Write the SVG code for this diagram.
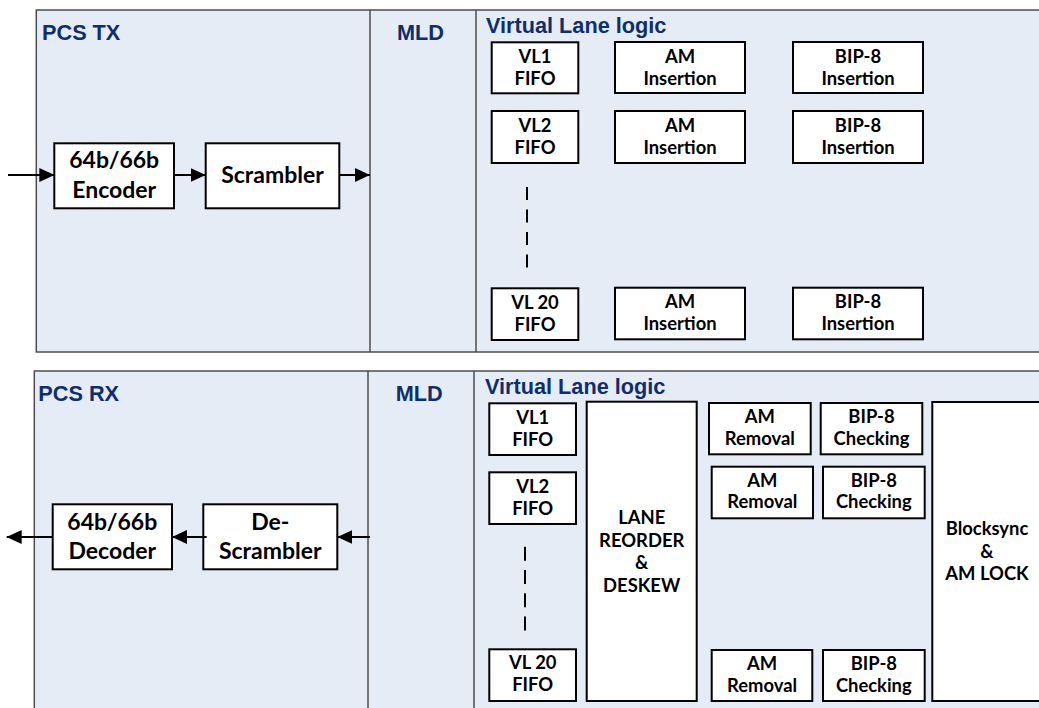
<svg xmlns="http://www.w3.org/2000/svg" width="1039" height="708" viewBox="0 0 1039 708">
<defs>
<style>
.panel{fill:#E6ECF6;stroke:#4D4D4D;stroke-width:1.5}
.div{stroke:#4D4D4D;stroke-width:1.5;fill:none}
.hdr{font-family:"Liberation Sans",Arial,sans-serif;font-weight:bold;font-size:21.7px;fill:#0F2E6C}
.box{fill:#FFFFFF;stroke:#000000;stroke-width:2}
.t{font-family:Lato,"Open Sans",sans-serif;font-weight:bold;font-size:18.4px;fill:#000000;text-anchor:middle}
.tb{font-family:Lato,"Open Sans",sans-serif;font-weight:bold;font-size:23px;fill:#000000;text-anchor:middle}
.conn{stroke:#000000;stroke-width:2;fill:none}
.dash{stroke:#000000;stroke-width:2;fill:none}
</style>
<marker id="ah" markerWidth="15" markerHeight="14" refX="15" refY="7" orient="auto" markerUnits="userSpaceOnUse">
<polygon points="0,0 15,7 0,14" fill="#000000"/>
</marker>
</defs>

<g id="panel-tx">
<rect class="panel" x="36.3" y="10" width="1010" height="342"/>
<line class="div" x1="370" y1="10" x2="370" y2="352"/>
<line class="div" x1="476" y1="10" x2="476" y2="352"/>
<text class="hdr" x="42" y="40">PCS TX</text>
<text class="hdr" x="397" y="40">MLD</text>
<text class="hdr" x="486" y="32.5">Virtual Lane logic</text>
</g>

<g id="panel-rx">
<rect class="panel" x="34.3" y="371" width="1012" height="345"/>
<line class="div" x1="368" y1="371" x2="368" y2="716"/>
<line class="div" x1="474" y1="371" x2="474" y2="716"/>
<text class="hdr" x="38.3" y="400.7">PCS RX</text>
<text class="hdr" x="395.7" y="400.7">MLD</text>
<text class="hdr" x="485" y="394">Virtual Lane logic</text>
</g>

<g id="encoder">
<rect class="box" x="54.3" y="143.3" width="119.7" height="65"/>
<text class="tb" x="114.2" y="168.3">64b/66b</text>
<text class="tb" x="114.2" y="197.7">Encoder</text>
</g>
<g id="scrambler">
<rect class="box" x="205.7" y="143.3" width="133.6" height="65"/>
<text class="tb" x="272.5" y="182.7">Scrambler</text>
</g>

<g id="tx-vl1-fifo"><rect class="box" x="491.7" y="42.3" width="86.6" height="51"/><text class="t" x="535" y="63.3">VL1</text><text class="t" x="535" y="85">FIFO</text></g>
<g id="tx-am1"><rect class="box" x="615" y="42" width="130" height="51"/><text class="t" x="680" y="62.5">AM</text><text class="t" x="680" y="84.5">Insertion</text></g>
<g id="tx-bip1"><rect class="box" x="793" y="42" width="130" height="51"/><text class="t" x="858" y="62.5">BIP-8</text><text class="t" x="858" y="84.5">Insertion</text></g>

<g id="tx-vl2-fifo"><rect class="box" x="491.7" y="111" width="86.6" height="52"/><text class="t" x="535" y="132">VL2</text><text class="t" x="535" y="154">FIFO</text></g>
<g id="tx-am2"><rect class="box" x="615" y="111" width="130" height="52"/><text class="t" x="680" y="131.5">AM</text><text class="t" x="680" y="153.5">Insertion</text></g>
<g id="tx-bip2"><rect class="box" x="793" y="111" width="130" height="52"/><text class="t" x="858" y="131.5">BIP-8</text><text class="t" x="858" y="153.5">Insertion</text></g>

<g id="tx-vl20-fifo"><rect class="box" x="491.7" y="288.3" width="86.6" height="51.7"/><text class="t" x="535" y="308.5">VL 20</text><text class="t" x="535" y="330.5">FIFO</text></g>
<g id="tx-am20"><rect class="box" x="615" y="287.7" width="130" height="51.6"/><text class="t" x="680" y="308">AM</text><text class="t" x="680" y="330">Insertion</text></g>
<g id="tx-bip20"><rect class="box" x="793" y="287.7" width="130" height="51.6"/><text class="t" x="858" y="308">BIP-8</text><text class="t" x="858" y="330">Insertion</text></g>

<g id="decoder">
<rect class="box" x="52.7" y="504.3" width="119.3" height="65"/>
<text class="tb" x="112.3" y="530">64b/66b</text>
<text class="tb" x="112.3" y="559">Decoder</text>
</g>
<g id="descrambler">
<rect class="box" x="203.3" y="504.3" width="134" height="65"/>
<text class="tb" x="270.3" y="530">De-</text>
<text class="tb" x="270.3" y="559">Scrambler</text>
</g>

<g id="rx-vl1-fifo"><rect class="box" x="489.3" y="403.3" width="86.7" height="51.7"/><text class="t" x="532.7" y="424.3">VL1</text><text class="t" x="532.7" y="446.3">FIFO</text></g>
<g id="rx-vl2-fifo"><rect class="box" x="489.3" y="472.3" width="86.7" height="51.7"/><text class="t" x="532.7" y="493">VL2</text><text class="t" x="532.7" y="515">FIFO</text></g>
<g id="rx-vl20-fifo"><rect class="box" x="489.3" y="649.3" width="86.7" height="51.7"/><text class="t" x="532.7" y="669">VL 20</text><text class="t" x="532.7" y="691">FIFO</text></g>

<g id="lane-reorder">
<rect class="box" x="586.7" y="401.7" width="110" height="299.3"/>
<text class="t" x="641.7" y="524">LANE</text>
<text class="t" x="641.7" y="546.7">REORDER</text>
<text class="t" x="641.7" y="569">&amp;</text>
<text class="t" x="641.7" y="591.7">DESKEW</text>
</g>

<g id="rx-am1"><rect class="box" x="709" y="403" width="101.7" height="51.3"/><text class="t" x="759.8" y="423.3">AM</text><text class="t" x="759.8" y="445">Removal</text></g>
<g id="rx-bip1"><rect class="box" x="820.7" y="403" width="101.6" height="51.3"/><text class="t" x="871.5" y="423.3">BIP-8</text><text class="t" x="871.5" y="445">Checking</text></g>
<g id="rx-am2"><rect class="box" x="711.7" y="466.7" width="101.3" height="51.6"/><text class="t" x="762.3" y="486.7">AM</text><text class="t" x="762.3" y="508.3">Removal</text></g>
<g id="rx-bip2"><rect class="box" x="823" y="466.7" width="101.7" height="51.6"/><text class="t" x="873.8" y="486.7">BIP-8</text><text class="t" x="873.8" y="508.3">Checking</text></g>
<g id="rx-am20"><rect class="box" x="711.7" y="650" width="100.6" height="51"/><text class="t" x="762" y="670">AM</text><text class="t" x="762" y="691.7">Removal</text></g>
<g id="rx-bip20"><rect class="box" x="823" y="650" width="101.7" height="51"/><text class="t" x="873.8" y="670">BIP-8</text><text class="t" x="873.8" y="691.7">Checking</text></g>

<g id="blocksync">
<rect class="box" x="932.3" y="402" width="115" height="299"/>
<text class="t" x="987" y="535">Blocksync</text>
<text class="t" x="987" y="558.3">&amp;</text>
<text class="t" x="987" y="580">AM LOCK</text>
</g>

<g id="connectors">
<line class="conn" x1="8" y1="175" x2="54.3" y2="175" marker-end="url(#ah)"/>
<line class="conn" x1="174" y1="175" x2="205.7" y2="175" marker-end="url(#ah)"/>
<line class="conn" x1="339.3" y1="175" x2="370" y2="175" marker-end="url(#ah)"/>
<line class="conn" x1="370" y1="537" x2="337.3" y2="537" marker-end="url(#ah)"/>
<line class="conn" x1="206.7" y1="537" x2="172" y2="537" marker-end="url(#ah)"/>
<line class="conn" x1="52.7" y1="537" x2="6.7" y2="537" marker-end="url(#ah)"/>
<line class="dash" x1="527" y1="187" x2="527" y2="269.5" stroke-dasharray="13 9.5"/>
<line class="dash" x1="525" y1="546.7" x2="525" y2="630.7" stroke-dasharray="14 9.3"/>
</g>
</svg>
